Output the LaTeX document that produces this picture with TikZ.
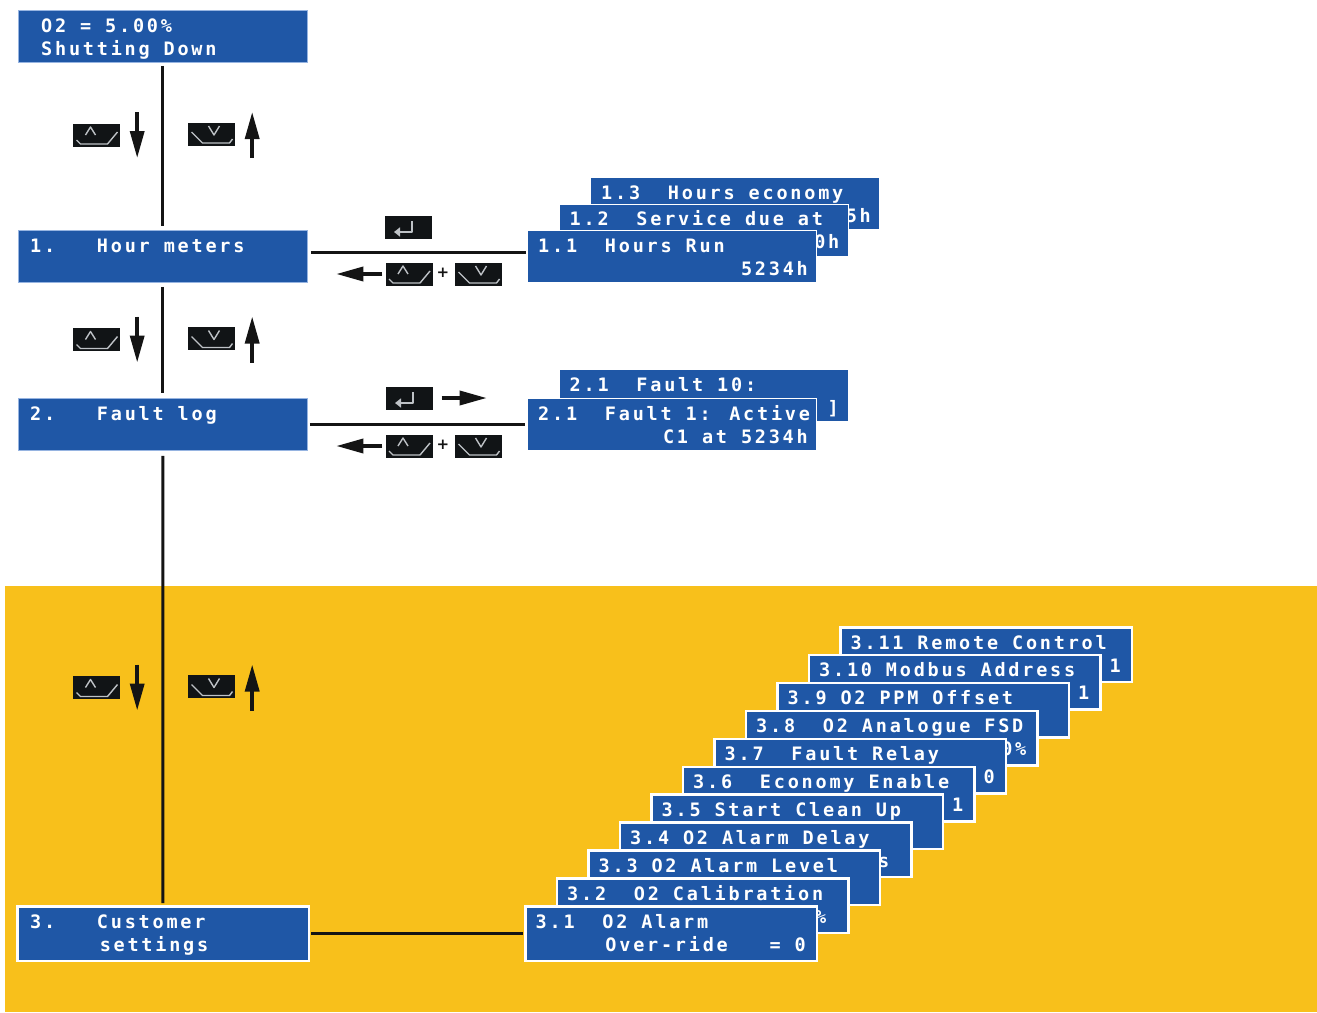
\documentclass[tikz,border=0pt]{standalone}
\usepackage{fontspec}
\usetikzlibrary{arrows.meta}
\usetikzlibrary{positioning}
\newfontfamily\lcdfont{DejaVu Sans Mono}[LetterSpace=15]
\newfontfamily\signfont{DejaVu Sans}

\definecolor{lcdblue}{RGB}{31,87,166}
\definecolor{lcdedge}{RGB}{150,180,225}
\definecolor{panelyellow}{RGB}{248,192,27}
\definecolor{keyblack}{RGB}{17,20,22}
\definecolor{keygrey}{RGB}{190,194,198}
\definecolor{lineblack}{RGB}{20,20,20}

\tikzstyle{lcd_box} = [
    draw=lcdedge, 
    line width=0.8pt, 
    fill=lcdblue, 
    inner sep=0pt, 
    minimum width=289pt, 
    minimum height=52pt, 
    anchor=north west
]
\tikzstyle{card_box} = [
    lcd_box, 
    draw=white, 
    line width=1.2pt
]
\tikzstyle{panel_box} = [
    lcd_box, 
    draw=white, 
    line width=2.5pt, % white frame on the yellow panel
    minimum width=291.5pt, 
    minimum height=54.5pt
]
\tikzstyle{lcd_text} = [
    white, 
    font=\lcdfont\bfseries\fontsize{18.5}{18.5}\selectfont, 
    inner sep=0pt, 
    anchor=base west
]
\tikzstyle{lcd_value} = [
    lcd_text, 
    anchor=base east
]
\tikzstyle{key_box} = [
    fill=keyblack, 
    inner sep=0pt, 
    minimum width=47pt, 
    minimum height=23pt
]
\tikzstyle{key_line} = [
    draw=keygrey, 
    line width=1.4pt, 
    line join=round
]
\tikzstyle{plus_sign} = [
    text=lineblack, 
    font=\signfont\bfseries\fontsize{15}{15}\selectfont, 
    inner sep=0pt
]
\tikzstyle{link} = [
    draw=lineblack, 
    line width=3pt
]
\tikzstyle{nav_arrow} = [
    draw=lineblack, 
    fill=lineblack, 
    line width=3.5pt, 
    -{Triangle[length=27pt,width=14pt]}
]

\tikzset{
    up_key/.pic={
        \node[key_box] (-box) {};
        \draw[key_line] (-20,5) -- (-16,9) -- (11,9) -- (21,-3);
        \draw[key_line] (-11,0) -- (-6,-8) -- (-1,0);
    },
    down_key/.pic={
        \node[key_box] (-box) {};
        \draw[key_line] (-20,-2) -- (-9,9) -- (18,9) -- (21,5);
        \draw[key_line] (-3,-8) -- (2.5,1) -- (8,-8);
    },
    enter_key/.pic={
        \node[key_box] (-box) {};
        \draw[key_line, line width=2.2pt, -{Triangle[length=6pt,width=9pt]}] 
            (4,-6) -- (4,5) -- (-14,5);
    }
}

\begin{document}
\begin{tikzpicture}[x=1pt, y=-1pt]
\useasboundingbox (0,0) rectangle (1317,1012);
\fill[panelyellow] (5,586) rectangle (1317,1012);

% main menu
\node[lcd_box] (top) at (18,10) {};
\node[lcd_text] (top-1) at (41,32) {O2 = 5.00\%};
\node[lcd_text] (top-2) at (41,55) {Shutting Down};
\node[lcd_box] (h1) at (18,230) {};
\node[lcd_text] (h1-1) at (30,252) {1.~~~Hour meters};
\node[lcd_box] (h2) at (18,398) {};
\node[lcd_text] (h2-1) at (30,420) {2.~~~Fault log};
\node[panel_box] (h3) at (16,905) {};
\node[lcd_text] (h3-1) at (30,928) {3.~~~Customer};
\node[lcd_text] (h3-2) at (30,951) {~~~~~settings};

\draw[link, shorten <=3pt, shorten >=4pt] (top) -- (h1);
\draw[link, shorten <=4pt, shorten >=5pt] (h1) -- (h2);
\draw[link, shorten <=5pt, shorten >=2pt] (h2) -- (h3);

% up / down keys
\foreach \k/\y in {1/135, 2/339.5, 3/687.5} {
    \pic (kup\k) at (96.5,\y) {up_key};
    \draw[nav_arrow] ([shift={(17,-23)}]kup\k-box.east) -- ([shift={(17,23)}]kup\k-box.east);
    \pic (kdn\k) at (211.5,\y-1) {down_key};
    \draw[nav_arrow] ([shift={(17,24)}]kdn\k-box.east) -- ([shift={(17,-22)}]kdn\k-box.east);
}

% hour meters
\foreach \n/\x/\y/\title/\val in {3/590/177/{1.3~~Hours economy}/5h, 
                                  2/558.5/203.5/{1.2~~Service due at}/0h, 
                                  1/527/230/{1.1~~Hours Run}/5234h} {
    \node[card_box] (c1-\n) at (\x,\y) {};
    \node[lcd_text] (c1-\n-1) at (\x+11,\y+22) {\title};
    \node[lcd_value] (c1-\n-2) at (\x+281,\y+45) {\val};
}
\draw[link, shorten <=3pt, shorten >=1pt] ([yshift=4pt]h1.east) -- ([yshift=4pt]h1.east -| c1-1.west);
\pic (ent1) at (408,227) {enter_key};
\pic (kup4) at (409,274) {up_key};
\node[plus_sign] (plus1) at (443,273) {+};
\pic (kdn4) at (478.5,274) {down_key};
\draw[nav_arrow] ([xshift=-3pt]kup4-box.west) -- ([xshift=-49pt]kup4-box.west);

% fault log
\node[card_box] (c2-2) at (558.5,369) {};
\node[lcd_text] (c2-2-1) at (569.5,391) {2.1~~Fault 10:};
\node[lcd_value] (c2-2-2) at (839,414) {]};
\node[card_box] (c2-1) at (527,398) {};
\node[lcd_text] (c2-1-1) at (538,420) {2.1~~Fault 1: Active};
\node[lcd_value] (c2-1-2) at (808,443) {C1 at 5234h};
\draw[link, shorten <=2pt, shorten >=2pt] (h2.east) -- (h2.east -| c2-1.west);
\pic (ent2) at (409,398) {enter_key};
\draw[nav_arrow] ([xshift=9pt]ent2-box.east) -- ([xshift=54pt]ent2-box.east);
\pic (kup5) at (409,446) {up_key};
\node[plus_sign] (plus2) at (443,445) {+};
\pic (kdn5) at (478.5,446) {down_key};
\draw[nav_arrow] ([xshift=-3pt]kup5-box.west) -- ([xshift=-49pt]kup5-box.west);

% customer settings
\foreach \n/\title/\val in {11/{3.11 Remote Control}/1, 
                            10/{3.10 Modbus Address}/1, 
                            9/{3.9 O2 PPM Offset}/{}, 
                            8/{3.8~~O2 Analogue FSD}/0\%, 
                            7/{3.7~~Fault Relay}/0, 
                            6/{3.6~~Economy Enable}/1, 
                            5/{3.5 Start Clean Up}/{}, 
                            4/{3.4 O2 Alarm Delay}/{s\phantom{0}}, 
                            3/{3.3 O2 Alarm Level}/{}, 
                            2/{3.2~~O2 Calibration}/{\%\phantom{0}}, 
                            1/{3.1~~O2 Alarm}/{Over-ride~~~=~0}} {
    \node[panel_box] (c3-\n) at ({524+(\n-1)*31.5},{905-(\n-1)*27.9}) {};
    \node[lcd_text] (c3-\n-1) at ({535.5+(\n-1)*31.5},{928-(\n-1)*27.9}) {\title};
    \node[lcd_value] (c3-\n-2) at ({806+(\n-1)*31.5},{951-(\n-1)*27.9}) {\val};
}
\draw[link, shorten <=1pt, shorten >=1pt] (h3.east) -- (h3.east -| c3-1.west);
\end{tikzpicture}
\end{document}
